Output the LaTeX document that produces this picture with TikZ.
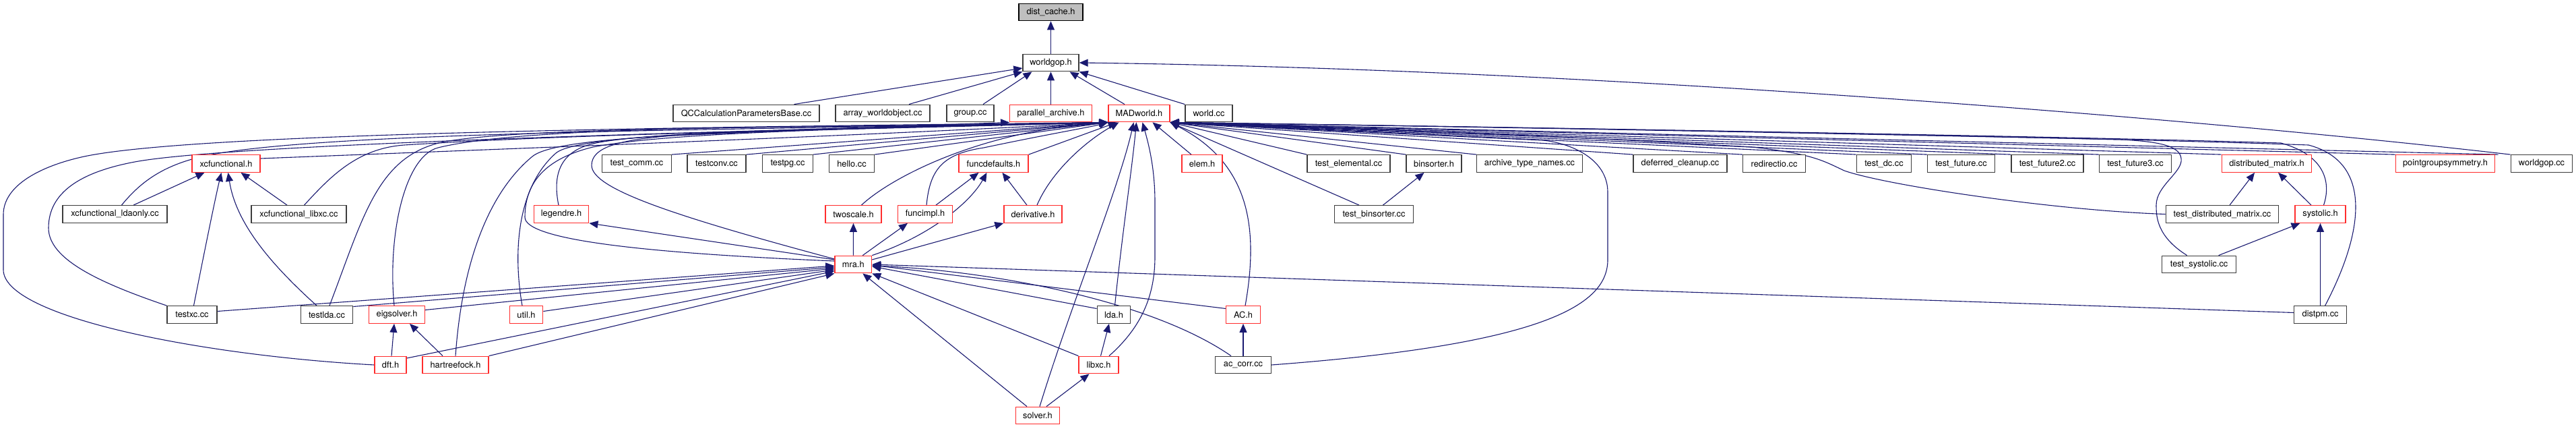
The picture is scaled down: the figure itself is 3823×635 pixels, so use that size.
\documentclass[tikz,border=0pt]{standalone}
\usepackage{fontspec}
\setmainfont{TeX Gyre Heros}
\usetikzlibrary{arrows.meta}
\pgfdeclarelayer{bg}
\pgfsetlayers{bg,main}
\definecolor{edgec}{RGB}{25,25,112}
\definecolor{redb}{RGB}{255,45,45}
\definecolor{grayb}{RGB}{60,60,60}
\definecolor{fillg}{RGB}{191,191,191}
\begin{document}
\begin{tikzpicture}[x=1pt,y=-1pt,
  nb/.style={draw=grayb, line width=1.3pt, minimum height=25.5pt, inner sep=0pt, fill=white,
    font=\fontsize{12.8pt}{15pt}\selectfont},
  nr/.style={nb, draw=redb},
  ng/.style={nb, draw=black, fill=fillg},
  dep/.style={draw=edgec, line width=1.1pt, -{Triangle[length=13pt,width=11pt]}}]
\useasboundingbox (0,0) rectangle (3823,635);
% row 0
\node[ng,minimum width=95pt] (dist) at (1559.5,18) {dist\_cache.h};
% row 1
\node[nb,minimum width=83pt] (wgh) at (1559.5,93) {worldgop.h};
% row 2
\node[nb,minimum width=217pt] (qcc) at (1107.5,168) {QCCalculationParametersBase.cc};
\node[nb,minimum width=140pt] (awo) at (1310,168) {array\_worldobject.cc};
\node[nb,minimum width=70pt] (grp) at (1440,168) {group.cc};
\node[nr,minimum width=121.5pt] (par) at (1559.5,168) {parallel\_archive.h};
\node[nr,minimum width=91pt] (mad) at (1690.5,168) {MADworld.h};
\node[nb,minimum width=70pt] (wcc) at (1794,168) {world.cc};
% row 3
\node[nr,minimum width=101pt] (xcf) at (335.5,242.5) {xcfunctional.h};
\node[nb,minimum width=102.5pt] (tcomm) at (945,242.5) {test\_comm.cc};
\node[nb,minimum width=87pt] (tconv) at (1063.5,242.5) {testconv.cc};
\node[nb,minimum width=74.5pt] (tpg) at (1169,242.5) {testpg.cc};
\node[nb,minimum width=66.5pt] (hello) at (1264,242.5) {hello.cc};
\node[nr,minimum width=103pt] (fdef) at (1474.5,242.5) {funcdefaults.h};
\node[nr,minimum width=60pt] (elem) at (1784,242.5) {elem.h};
\node[nb,minimum width=123pt] (telem) at (2001.5,242.5) {test\_elemental.cc};
\node[nb,minimum width=82pt] (bins) at (2128,242.5) {binsorter.h};
\node[nb,minimum width=156.5pt] (atn) at (2270,242.5) {archive\_type\_names.cc};
\node[nb,minimum width=139pt] (dclean) at (2493.5,242.5) {deferred\_cleanup.cc};
\node[nb,minimum width=92.5pt] (redir) at (2633,242.5) {redirectio.cc};
\node[nb,minimum width=81.5pt] (tdc) at (2796,242.5) {test\_dc.cc};
\node[nb,minimum width=100pt] (tfut) at (2910.5,242.5) {test\_future.cc};
\node[nb,minimum width=107pt] (tfut2) at (3038.5,242.5) {test\_future2.cc};
\node[nb,minimum width=106.5pt] (tfut3) at (3169,242.5) {test\_future3.cc};
\node[nr,minimum width=133.5pt] (dmat) at (3364,242.5) {distributed\_matrix.h};
\node[nr,minimum width=147pt] (pgs) at (3629,242.5) {pointgroupsymmetry.h};
\node[nb,minimum width=91.5pt] (wgcc) at (3772,242.5) {worldgop.cc};
% row 4
\node[nb,minimum width=155pt] (xlda) at (170.5,317.5) {xcfunctional\_ldaonly.cc};
\node[nb,minimum width=141pt] (xlibxc) at (443.5,317.5) {xcfunctional\_libxc.cc};
\node[nr,minimum width=81.5pt] (leg) at (833,317.5) {legendre.h};
\node[nr,minimum width=83pt] (twos) at (1266.5,317.5) {twoscale.h};
\node[nr,minimum width=81.5pt] (fimpl) at (1373,317.5) {funcimpl.h};
\node[nr,minimum width=86pt] (deriv) at (1533,317.5) {derivative.h};
\node[nb,minimum width=116.5pt] (tbins) at (2039,317.5) {test\_binsorter.cc};
\node[nb,minimum width=167.5pt] (tdmat) at (3298,317.5) {test\_distributed\_matrix.cc};
\node[nr,minimum width=75pt] (syst) at (3443.5,317.5) {systolic.h};
% row 5
\node[nr,minimum width=54.6pt] (mra) at (1266.3,392) {mra.h};
\node[nb,minimum width=110pt] (tsys) at (3263.6,392) {test\_systolic.cc};
% row 6
\node[nb,minimum width=74pt] (txc) at (285,466.5) {testxc.cc};
\node[nb,minimum width=77.5pt] (tlda) at (485,466.5) {testlda.cc};
\node[nr,minimum width=83pt] (eig) at (589,466.5) {eigsolver.h};
\node[nr,minimum width=49.5pt] (util) at (781,466.5) {util.h};
\node[nb,minimum width=49.5pt] (lda) at (1653,466.5) {lda.h};
\node[nr,minimum width=50.5pt] (ach) at (1845,466.5) {AC.h};
\node[nb,minimum width=78pt] (dpm) at (3443.6,466.5) {distpm.cc};
% row 7
\node[nr,minimum width=47pt] (dft) at (579.5,541) {dft.h};
\node[nr,minimum width=98pt] (hf) at (676,541) {hartreefock.h};
\node[nr,minimum width=59pt] (libxc) at (1630.5,541) {libxc.h};
\node[nb,minimum width=83pt] (accorr) at (1845,541) {ac\_corr.cc};
% row 8
\node[nr,minimum width=65.5pt] (solver) at (1540,616) {solver.h};

\begin{pgfonlayer}{bg}
% into dist_cache.h and worldgop.h
\draw[dep] (wgh.north) -- (dist.south);
\draw[dep] ([xshift=71pt]qcc.north) -- ([yshift=-8pt]wgh.west);
\draw[dep] ([xshift=39pt]awo.north) -- (wgh.south west);
\draw[dep] ([xshift=19pt]grp.north) -- ([xshift=-28pt]wgh.south);
\draw[dep] (par.north) -- (wgh.south);
\draw[dep] ([xshift=-21.5pt]mad.north) -- ([xshift=28pt]wgh.south);
\draw[dep] (wcc.north west) -- (wgh.south east);
\draw[dep] (wgcc.north west) .. controls (3300,180) and (2400,103) .. (wgh.east);
% left bundle into MADworld.h
\draw[dep] (dft.west) .. controls (300,527) and (5,470) .. (5,400) -- (5,318) .. controls (5,275) and (60,246) .. (125,232) .. controls (300,195) and (1100,188) .. (mad.south west);
\draw[dep] (txc.north west) .. controls (150,420) and (72,385) .. (72,338) .. controls (72,285) and (120,255) .. (200,240) .. controls (350,212) and (1150,192) .. (mad.south west);
\draw[dep] ([xshift=10pt]xlda.north) .. controls (210,268) and (245,243) .. (310,230) .. controls (500,192) and (1200,192) .. (mad.south west);
\draw[dep] ([yshift=7.5pt]xcf.east) .. controls (900,215) and (1300,200) .. (mad.south west);
\draw[dep] ([xshift=8pt]xlibxc.north) .. controls (490,262) and (530,220) .. (600,215) .. controls (900,196) and (1300,192) .. (mad.south west);
\draw[dep] ([xshift=4pt]tlda.north) .. controls (540,320) and (560,230) .. (660,210) .. controls (800,185) and (1300,190) .. (mad.south west);
\draw[dep] ([xshift=-4pt]eig.north) .. controls (575,350) and (600,232) .. (650,219) .. controls (800,182) and (1300,190) .. (mad.south west);
\draw[dep] (hf.north) .. controls (685,400) and (720,290) .. (790,232) .. controls (830,199) and (1100,195) .. (mad.south west);
\draw[dep] ([xshift=-6pt]util.north) .. controls (762,380) and (765,280) .. (825,227) .. controls (865,192) and (1300,190) .. (mad.south west);
\draw[dep] ([xshift=-4pt]leg.north) .. controls (820,260) and (830,225) .. (880,213) .. controls (960,194) and (1300,190) .. (mad.south west);
\draw[dep] ([yshift=5pt]mra.west) .. controls (950,375) and (779,355) .. (779,322) .. controls (779,270) and (810,235) .. (880,218) .. controls (1000,195) and (1300,190) .. (mad.south west);
\draw[dep] ([yshift=8pt]mra.west) .. controls (1000,320) and (878,280) .. (878,245) .. controls (878,218) and (920,207) .. (1000,201) .. controls (1200,192) and (1400,185) .. (par.south west);
\draw[dep] (tcomm.north east) -- (mad.south west);
\draw[dep] (tconv.north east) -- (mad.south west);
\draw[dep] (tpg.north east) -- (mad.south west);
\draw[dep] (hello.north east) -- (mad.south west);
\draw[dep] ([xshift=12pt]twos.north) .. controls (1320,265) and (1450,195) .. (mad.south west);
\draw[dep] ([xshift=2pt]fimpl.north) .. controls (1380,250) and (1400,228) .. (1460,219) .. controls (1550,200) and (1620,188) .. (mad.south west);
\draw[dep] (fdef.north east) -- ([xshift=-33pt]mad.south);
\draw[dep] ([xshift=6pt]deriv.north) .. controls (1560,255) and (1610,210) .. ([xshift=-30pt]mad.south);
% from below into MADworld.h
\draw[dep] ([xshift=1.5pt]lda.north) .. controls (1665,350) and (1680,250) .. ([xshift=-4pt]mad.south);
\draw[dep] ([xshift=3pt]solver.north) .. controls (1590,450) and (1660,280) .. ([xshift=-8pt]mad.south);
\draw[dep] ([xshift=15.5pt]libxc.north) .. controls (1700,480) and (1714,430) .. (1714,380) -- (1714,300) .. controls (1714,250) and (1705,215) .. ([xshift=5pt]mad.south);
\draw[dep] ([xshift=-16pt]elem.north) -- ([xshift=20pt]mad.south);
\draw[dep] ([xshift=3pt]ach.north) .. controls (1870,330) and (1850,240) .. (mad.south east);
\draw[dep] (accorr.east) .. controls (2300,510) and (2386,450) .. (2386,385) -- (2386,285) .. controls (2386,235) and (2330,212) .. (2290,208) .. controls (2000,195) and (1800,185) .. (mad.south east);
% right bundle into MADworld.h
\draw[dep] (telem.north west) -- (mad.south east);
\draw[dep] (bins.north west) -- (mad.south east);
\draw[dep] (atn.north west) -- (mad.south east);
\draw[dep] (dclean.north west) -- (mad.south east);
\draw[dep] (redir.north west) -- (mad.south east);
\draw[dep] (tdc.north west) -- (mad.south east);
\draw[dep] (tfut.north west) -- (mad.south east);
\draw[dep] (tfut2.north west) -- (mad.south east);
\draw[dep] (tfut3.north west) -- (mad.south east);
\draw[dep] (dmat.north west) -- (mad.south east);
\draw[dep] (pgs.north west) -- (mad.south east);
\draw[dep] ([xshift=-18pt]wgcc.north west) -- (mad.south east);
\draw[dep] ([xshift=-22pt]tbins.north) -- (mad.south east);
\draw[dep] (tdmat.west) .. controls (3050,312) and (2800,275) .. (2737,253) .. controls (2705,238) and (2690,228) .. (2600,218) .. controls (2300,200) and (1900,186) .. (mad.south east);
\draw[dep] ([xshift=-18pt]tsys.north) .. controls (3200,350) and (3200,320) .. (3200,304) .. controls (3200,275) and (3240,255) .. (3237,235) .. controls (3235,215) and (3200,210) .. (3150,207) .. controls (2600,195) and (2000,185) .. (mad.south east);
\draw[dep] ([xshift=5pt]syst.north) .. controls (3460,270) and (3450,230) .. (3385,212) .. controls (3000,200) and (2000,185) .. (mad.south east);
\draw[dep] ([xshift=7pt]dpm.north) .. controls (3510,340) and (3520,240) .. (3426,215) .. controls (3000,200) and (2000,185) .. (mad.south east);
% xcfunctional.h
\draw[dep] ([xshift=27.5pt]xlda.north) -- ([xshift=-32pt]xcf.south);
\draw[dep] ([xshift=2.5pt]txc.north) .. controls (298,400) and (318,300) .. ([xshift=-7pt]xcf.south);
\draw[dep] ([xshift=-15pt]tlda.north) .. controls (400,390) and (350,330) .. ([xshift=3pt]xcf.south);
\draw[dep] ([xshift=-17.5pt]xlibxc.north) -- ([xshift=22pt]xcf.south);
% eigsolver.h
\draw[dep] ([xshift=1.5pt]dft.north) -- ([xshift=-4pt]eig.south);
\draw[dep] ([xshift=-19pt]hf.north) -- ([xshift=19pt]eig.south);
% into mra.h from the left
\draw[dep] ([yshift=5pt]txc.east) -- ([yshift=-2pt]mra.west);
\draw[dep] ([yshift=12pt]tlda.east) -- ([yshift=-4pt]mra.west);
\draw[dep] ([yshift=7pt]eig.east) -- ([yshift=-6pt]mra.west);
\draw[dep] ([yshift=5pt]util.east) -- ([yshift=-8pt]mra.west);
\draw[dep] ([yshift=10pt]dft.east) -- ([yshift=-10pt]mra.west);
\draw[dep] (hf.north east) -- (mra.south west);
\draw[dep] ([yshift=7pt]mra.west) -- (leg.south east);
% into mra.h from the right and below
\draw[dep] ([yshift=9pt]lda.west) -- ([yshift=-3pt]mra.east);
\draw[dep] ([yshift=9pt]ach.west) -- ([yshift=-1pt]mra.east);
\draw[dep] ([xshift=-18pt]accorr.north) .. controls (1700,440) and (1450,400) .. ([yshift=-2pt]mra.east);
\draw[dep] (libxc.north west) -- (mra.south east);
\draw[dep] ([xshift=-16pt]solver.north) -- ([xshift=14pt]mra.south);
\draw[dep] ([yshift=3pt]dpm.west) -- (mra.east);
% from mra.h upwards
\draw[dep] (mra.north) -- (twos.south);
\draw[dep] ([xshift=14pt]mra.north) -- ([xshift=-26pt]fimpl.south);
\draw[dep] (mra.north east) .. controls (1380,350) and (1440,300) .. ([xshift=-10pt]fdef.south);
\draw[dep] ([yshift=7pt]mra.east) -- (deriv.south west);
\draw[dep] ([xshift=16pt]fimpl.north) -- ([xshift=-22pt]fdef.south);
\draw[dep] ([xshift=-9pt]deriv.north) -- ([xshift=13pt]fdef.south);
% lda, libxc, solver, AC
\draw[dep] ([xshift=3pt]libxc.north) -- ([xshift=-7pt]lda.south);
\draw[dep] ([xshift=13pt]solver.north) -- ([xshift=-14pt]libxc.south);
\draw[dep] (accorr.north) -- (ach.south);
% binsorter, distributed_matrix, systolic
\draw[dep] ([xshift=13.5pt]tbins.north) -- ([xshift=-14.5pt]bins.south);
\draw[dep] ([xshift=11pt]tdmat.north) -- ([xshift=-18pt]dmat.south);
\draw[dep] ([xshift=-13.5pt]syst.north) -- ([xshift=17pt]dmat.south);
\draw[dep] ([xshift=29pt]tsys.north) -- ([xshift=-30pt]syst.south);
\draw[dep] (dpm.north) -- (syst.south);
\end{pgfonlayer}
\end{tikzpicture}
\end{document}
